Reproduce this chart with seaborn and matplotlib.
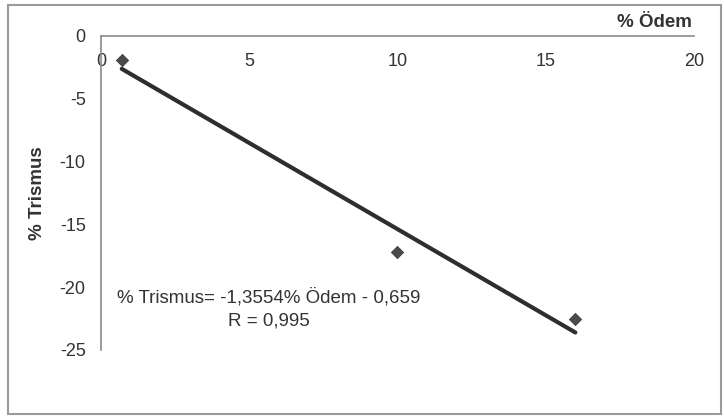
import numpy as np
import pandas as pd
import matplotlib
matplotlib.use("Agg")
import matplotlib.pyplot as plt
from matplotlib.patches import Rectangle
import seaborn as sns

# Data
odem = [0.7, 10.0, 16.0]          # % Ödem
trismus = [-1.9, -17.2, -22.5]    # % Trismus
x_ticks = [0, 5, 10, 15, 20]
y_ticks = [0, -5, -10, -15, -20, -25]
equation_text = "% Trismus= -1,3554% Ödem - 0,659"
r_text = "R = 0,995"

sns.set_style("white")
plt.rcParams['font.family'] = ['Liberation Sans', 'DejaVu Sans']

df = pd.DataFrame({"odem": odem, "trismus": trismus})

fig = plt.figure(figsize=(7.24, 4.16), dpi=100)
fig.patch.set_facecolor("white")
fig.patches.append(Rectangle((0.011, 0.004), 0.985, 0.984, transform=fig.transFigure,
                             fill=False, edgecolor="#9a9a9a", linewidth=1.5))

ax = fig.add_axes([0.1395, 0.1587, 0.819, 0.7548])
sns.regplot(data=df, x="odem", y="trismus", ax=ax, ci=None, truncate=True,
            marker="D", scatter_kws=dict(s=40, color="#1e1e1e", edgecolor="#1e1e1e",
                                         linewidths=0.5, zorder=3),
            line_kws=dict(color="#2e2e2e", linewidth=3.0))

ax.set_xlim(0, 20)
ax.set_ylim(-25, 0)
ax.set_xticks(x_ticks)
ax.set_yticks(y_ticks)
ax.set_xticklabels([str(t) for t in x_ticks])
ax.set_yticklabels([str(t) for t in y_ticks])

for s in ["top", "right"]:
    ax.spines[s].set_visible(False)
ax.spines["bottom"].set_position(("data", 0))
for s in ["bottom", "left"]:
    ax.spines[s].set_color("#8a8a8a")
    ax.spines[s].set_linewidth(1.2)

ax.tick_params(axis="x", direction="out", length=4, width=1, color="#8a8a8a",
               pad=8, labelsize=13, labelcolor="#333333")
ax.tick_params(axis="y", direction="out", length=4, width=1, color="#8a8a8a",
               pad=7, labelsize=13, labelcolor="#333333")
ax.set_xlabel("")
ax.set_ylabel("")

fig.text(0.955, 0.945, "% Ödem", ha="right", va="center", fontsize=13.5,
         fontweight="bold", color="#333333")
fig.text(0.052, 0.535, "% Trismus", ha="center", va="center", rotation=90,
         fontsize=13.5, fontweight="bold", color="#333333")

ax.text(5.65, -20.8, equation_text, ha="center", va="center", fontsize=13.5, color="#333333")
ax.text(5.65, -22.7, r_text, ha="center", va="center", fontsize=13.5, color="#333333")

fig.savefig("out.png", dpi=100)
